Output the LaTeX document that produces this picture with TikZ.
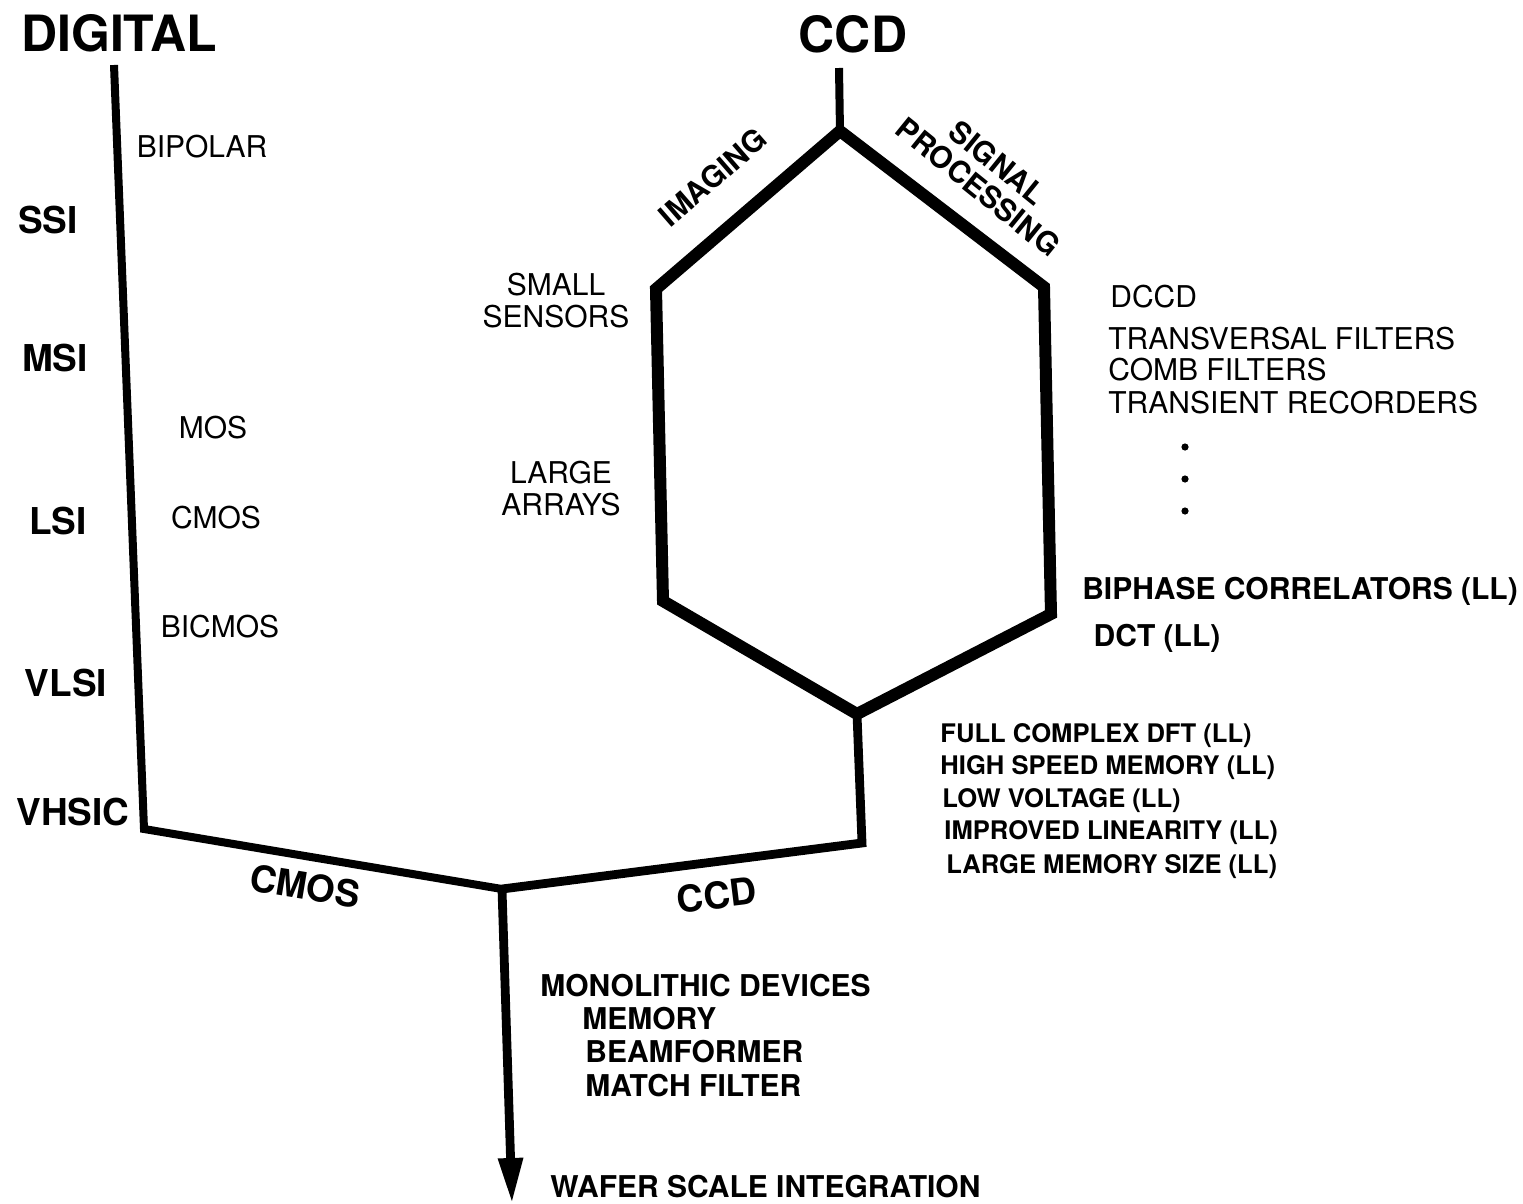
\documentclass[tikz,border=0pt]{standalone}
\usepackage{fontspec}
\setmainfont{TeX Gyre Heros}
\usetikzlibrary{arrows.meta}
\begin{document}
\begin{tikzpicture}[x=0.5pt,y=-0.5pt,
  big/.style={font=\bfseries\fontsize{25}{28}\selectfont,inner sep=0pt},
  lvl/.style={font=\bfseries\fontsize{18.5}{21}\selectfont,inner sep=0pt},
  reg/.style={font=\fontsize{15}{16}\selectfont,inner sep=0pt},
  bld/.style={font=\bfseries\fontsize{15}{16}\selectfont,inner sep=0pt},
  sml/.style={font=\bfseries\fontsize{12.8}{16}\selectfont,inner sep=0pt,anchor=west},
  dotmark/.style={circle,fill=black,inner sep=0pt,minimum size=3.6pt},
  thin/.style={line width=4pt},
  mid/.style={line width=4.4pt},
  thick/.style={line width=6pt,line join=miter}
]
\useasboundingbox (0,0) rectangle (1523,1204);

% path vertices
\coordinate (dtop) at (114,65);
\coordinate (dcorner) at (144,829);
\coordinate (junc) at (502,889);
\coordinate (ccorner) at (862,843);
\coordinate (hbot) at (857,714);
\coordinate (htop) at (840,131);
\coordinate (stemtop) at (839,68);
\coordinate (hlu) at (656,289);
\coordinate (hll) at (663,601);
\coordinate (hrl) at (1051,614);
\coordinate (hru) at (1044,287);
\coordinate (aend) at (512,1204);

% digital branch
\draw[thin,line join=miter] (dtop) -- (dcorner) -- (junc);
\draw[mid,line join=miter] (junc) -- (ccorner) -- (hbot);
% CCD stem and hexagon
\draw[thin] (stemtop) -- (htop);
\draw[thick] (htop) -- (hlu) -- (hll) -- (hbot) -- (hrl) -- (hru) -- cycle;
% arrow
\draw[mid,-{Triangle[length=23pt,width=11.5pt]}] (junc) -- (aend);

% titles
\node[big] (digital) at (119,33) {DIGITAL};
\node[big] (ccdtitle) at (853,34) {CCD};

% levels
\node[lvl] (ssi) at (48,220) {SSI};
\node[lvl] (msi) at (55,358) {MSI};
\node[lvl] (lsi) at (58,521) {LSI};
\node[lvl] (vlsi) at (66,683) {VLSI};
\node[lvl] (vhsic) at (73,812) {VHSIC};

% technologies
\node[reg] (bipolar) at (202,147) {BIPOLAR};
\node[reg] (mos) at (213,428) {MOS};
\node[reg] (cmos1) at (216,518) {CMOS};
\node[reg] (bicmos) at (220,627) {BICMOS};

% branch labels
\node[lvl,rotate=-9.5] (cmoslab) at (305,886) {CMOS};
\node[lvl,rotate=7] (ccdlab) at (717,895) {CCD};

% hexagon labels
\node[bld,rotate=41] (imaging) at (713,177) {IMAGING};
\node[bld,rotate=-39,align=center,font=\bfseries\fontsize{15}{15.5}\selectfont] (sigproc) at (988,175) {SIGNAL\\PROCESSING};
\node[reg,align=center] (small) at (556,301) {SMALL\\SENSORS};
\node[reg,align=center] (large) at (561,489) {LARGE\\ARRAYS};

% signal processing list
\node[reg,anchor=west] (dccd) at (1110,297) {DCCD};
\node[reg,anchor=west] (transv) at (1108,339) {TRANSVERSAL FILTERS};
\node[reg,anchor=west] (comb) at (1108,370) {COMB FILTERS};
\node[reg,anchor=west] (trans) at (1108,403) {TRANSIENT RECORDERS};
\node[dotmark] (dot1) at (1185,447) {};
\node[dotmark] (dot2) at (1185,479) {};
\node[dotmark] (dot3) at (1185,511) {};

\node[bld] (biphase) at (1300,591) {BIPHASE CORRELATORS (LL)};
\node[bld] (dct) at (1157,638) {DCT (LL)};

% low-level list
\node[sml] (dft) at (940,736) {FULL COMPLEX DFT (LL)};
\node[sml] (hsm) at (940,768) {HIGH SPEED MEMORY (LL)};
\node[sml] (lv) at (942,801) {LOW VOLTAGE (LL)};
\node[sml] (lin) at (944,833) {IMPROVED LINEARITY (LL)};
\node[sml] (lms) at (946,867) {LARGE MEMORY SIZE (LL)};

% monolithic list
\node[bld,anchor=west] (mono) at (540,986) {MONOLITHIC DEVICES};
\node[bld,anchor=west] (mem) at (582,1019) {MEMORY};
\node[bld,anchor=west] (beam) at (585,1052) {BEAMFORMER};
\node[bld,anchor=west] (match) at (585,1086) {MATCH FILTER};

\node[bld,anchor=west] (wafer) at (550,1187) {WAFER SCALE INTEGRATION};
\end{tikzpicture}
\end{document}
